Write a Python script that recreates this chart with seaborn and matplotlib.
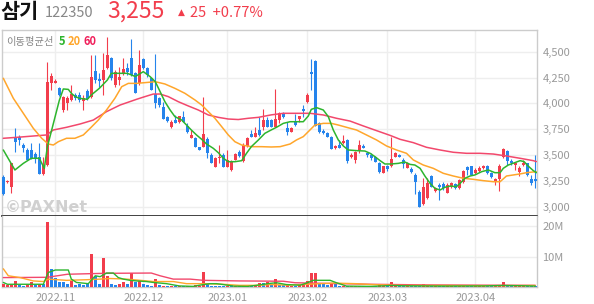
import numpy as np
import pandas as pd
import matplotlib
matplotlib.use("Agg")
import matplotlib.pyplot as plt
import seaborn as sns

# ---------------- data ----------------
stock_name = "삼기"
stock_code = "122350"
last_price = "3,255"
change_text = "25  +0.77%"

holidays = ["2022-10-10", "2022-12-30", "2023-01-23", "2023-01-24", "2023-03-01"]
first_day = "2022-10-13"
last_day = "2023-04-24"

open_ = [3294, 3245, 3197, 3680, 3680, 3600, 3551, 3551, 3512, 3487,
         3320, 3410, 4201, 4201, 4146, 3937, 4002, 4034, 4082, 4082,
         4027, 4120, 4066, 4317, 4240, 4227, 4339, 4442, 4178, 4227,
         4297, 4346, 4442, 4291, 4194, 4429, 4345, 4243, 4090, 4050,
         3969, 3873, 3776, 3840, 3824, 3866, 3783, 3664, 3664, 3577,
         3583, 3654, 3503, 3390, 3471, 3503, 3384, 3358, 3455, 3535,
         3448, 3590, 3705, 3680, 3744, 3770, 3840, 3840, 3770, 3840,
         3905, 3760, 3728, 3824, 3847, 3943, 4017, 4301, 4410, 3815,
         3738, 3718, 3680, 3567, 3599, 3615, 3648, 3480, 3455, 3551,
         3590, 3525, 3503, 3487, 3422, 3332, 3397, 3397, 3487, 3503,
         3455, 3374, 3364, 3310, 3149, 3030, 3085, 3300, 3159, 3213,
         3223, 3139, 3197, 3223, 3181, 3245, 3390, 3397, 3326, 3352,
         3374, 3397, 3332, 3245, 3268, 3480, 3545, 3448, 3406, 3342,
         3406, 3423, 3268, 3270]
high = [3310, 3262, 3428, 3760, 3696, 3616, 3567, 3616, 3535, 3616,
        3487, 4404, 4290, 4233, 4162, 4072, 4072, 4178, 4098, 4114,
        4082, 4136, 4468, 4468, 4291, 4484, 4638, 4452, 4323, 4355,
        4436, 4388, 4622, 4307, 4520, 4440, 4355, 4259, 4477, 4060,
        4017, 3880, 3840, 3885, 3879, 3930, 3808, 3744, 3673, 3583,
        4066, 3673, 3519, 3480, 3599, 3519, 3551, 3455, 3519, 3551,
        3615, 3680, 3744, 3776, 3873, 3943, 3873, 3850, 4136, 3921,
        3921, 3824, 3776, 3898, 3879, 3985, 4098, 4426, 4420, 3824,
        3750, 3725, 3690, 3596, 3648, 3696, 3654, 3519, 3545, 3648,
        3609, 3535, 3519, 3490, 3439, 3397, 3406, 3680, 3535, 3510,
        3471, 3435, 3384, 3326, 3165, 3278, 3278, 3310, 3197, 3236,
        3245, 3236, 3245, 3229, 3268, 3358, 3397, 3400, 3374, 3397,
        3406, 3403, 3342, 3278, 3416, 3570, 3551, 3461, 3429, 3397,
        3455, 3429, 3310, 3500]
low = [3117, 3235, 3139, 3535, 3600, 3535, 3454, 3461, 3423, 3320,
       3310, 3400, 4130, 4194, 4072, 3921, 3937, 4027, 4034, 4017,
       3937, 4034, 4050, 4194, 4162, 4082, 4330, 4227, 4162, 4178,
       4275, 4275, 4265, 4098, 4178, 4330, 4259, 4130, 3953, 3969,
       3850, 3824, 3760, 3815, 3815, 3824, 3712, 3664, 3577, 3551,
       3583, 3471, 3422, 3384, 3422, 3384, 3384, 3352, 3455, 3487,
       3439, 3583, 3673, 3680, 3686, 3744, 3770, 3770, 3770, 3815,
       3857, 3696, 3728, 3783, 3824, 3873, 4001, 4130, 3783, 3718,
       3705, 3680, 3557, 3560, 3567, 3609, 3422, 3471, 3422, 3519,
       3567, 3487, 3455, 3439, 3332, 3332, 3352, 3390, 3480, 3480,
       3374, 3374, 3332, 3127, 2998, 3020, 3075, 3197, 3149, 3069,
       3165, 3133, 3181, 3172, 3172, 3236, 3310, 3310, 3320, 3342,
       3364, 3320, 3278, 3213, 3158, 3471, 3406, 3406, 3358, 3300,
       3397, 3300, 3213, 3180]
close = [3126, 3255, 3422, 3631, 3648, 3568, 3454, 3461, 3461, 3320,
         3407, 4210, 4265, 4220, 4082, 4066, 4050, 4092, 4050, 4034,
         4050, 4040, 4259, 4227, 4217, 4323, 4468, 4243, 4307, 4259,
         4330, 4307, 4275, 4098, 4371, 4345, 4275, 4130, 4000, 3990,
         3850, 3831, 3824, 3815, 3879, 3824, 3728, 3696, 3577, 3551,
         3702, 3519, 3422, 3471, 3487, 3390, 3455, 3438, 3512, 3493,
         3599, 3664, 3680, 3712, 3696, 3840, 3776, 3770, 3847, 3905,
         3866, 3728, 3767, 3792, 3879, 3930, 4082, 4281, 3783, 3728,
         3712, 3680, 3557, 3590, 3567, 3641, 3448, 3503, 3535, 3600,
         3567, 3503, 3471, 3439, 3342, 3397, 3364, 3461, 3519, 3480,
         3416, 3429, 3342, 3245, 3004, 3197, 3229, 3197, 3188, 3197,
         3181, 3213, 3229, 3181, 3262, 3352, 3358, 3310, 3358, 3374,
         3397, 3326, 3294, 3268, 3397, 3557, 3448, 3423, 3423, 3381,
         3429, 3310, 3230, 3255]

volume_m = [0.9, 0.7, 0.7, 2.0, 0.7, 0.35, 0.9, 1.5, 0.7, 1.1,
            1.1, 21.3, 6.0, 3.1, 1.7, 1.5, 1.1, 2.0, 0.7, 0.9,
            0.7, 0.9, 10.8, 3.7, 1.1, 9.7, 3.7, 1.1, 0.7, 1.1,
            1.5, 1.1, 4.7, 1.5, 2.0, 1.1, 0.7, 0.35, 2.6, 0.7,
            0.35, 0.3, 0.3, 0.3, 0.25, 0.25, 0.25, 0.25, 0.5, 0.2,
            5.0, 1.1, 0.3, 0.3, 0.3, 0.3, 0.4, 0.8, 0.3, 0.2,
            0.3, 0.3, 0.2, 0.3, 1.3, 1.3, 1.7, 0.8, 2.6, 0.8,
            0.8, 0.55, 0.3, 0.3, 0.55, 1.1, 1.9, 4.6, 4.6, 1.1,
            0.9, 0.55, 1.1, 0.9, 0.3, 0.3, 0.3, 0.3, 0.2, 0.3,
            0.2, 0.25, 0.2, 0.25, 0.5, 0.3, 0.2, 1.5, 0.3, 0.2,
            0.25, 0.2, 0.2, 0.3, 0.3, 1.1, 0.4, 0.25, 0.2, 0.25,
            0.2, 0.2, 0.2, 0.2, 0.2, 0.3, 0.2, 0.2, 0.2, 0.2,
            0.2, 0.2, 0.2, 0.2, 0.4, 1.5, 0.4, 0.3, 0.2, 0.2,
            0.2, 0.3, 0.3, 0.3]
# u = up day (red volume bar), d = down day (blue volume bar)
volume_dir = list("".join([
    "uuuudduudu", "dudddddudd", "ddudduuddu", "udududddud",
    "udududuuuu", "udddddudud", "uuduududud", "duuduuuuud",
    "ddudduduuu", "dddduuduud", "duddduudud", "duuduudduu",
    "udduuudduu", "uddd",
]))

ma5_day = [0, 2.9, 5, 7, 9, 10.25, 11, 12, 13, 14, 15, 16.25, 17, 18, 19, 20, 21, 22,
           24, 26, 27, 29, 31, 33, 35, 36.7, 38, 39, 40.4, 41.7, 42.9, 44.6, 45.8,
           47, 48.3, 49.6, 50.8, 52.5, 53.75, 55, 56.25, 57.9, 59.6, 60.8, 62,
           63.75, 65.4, 67, 68.3, 70, 71.7, 73.3, 75, 76.25, 77, 78.3, 80, 81.25,
           82.5, 83.75, 85, 86.25, 88.3, 90.4, 91.7, 92.9, 94.2, 95.4, 97, 98.75,
           100.4, 101.7, 102.9, 104.2, 105.4, 106.7, 107.9, 109.2, 110.4, 111.7,
           113.3, 114.2, 115.4, 116.7, 117.9, 119.6, 121.25, 122.9, 124.2, 125,
           126.25, 127.9, 129.2, 130.2, 131.2, 132.5, 133.3]
ma5_val = [3551, 3358, 3422, 3471, 3471, 3374, 3580, 3730, 3880, 4030, 4140, 4136,
           4098, 4066, 4050, 4045, 4040, 4082, 4146, 4226, 4291, 4291, 4291, 4260,
           4307, 4259, 4210, 4130, 4017, 3937, 3873, 3840, 3792, 3744, 3696, 3654,
           3609, 3567, 3525, 3471, 3438, 3438, 3448, 3519, 3583, 3647, 3712, 3745,
           3770, 3808, 3824, 3824, 3824, 3879, 3943, 3960, 3937, 3873, 3744, 3648,
           3590, 3551, 3545, 3541, 3519, 3487, 3448, 3416, 3416, 3422, 3435, 3412,
           3406, 3374, 3300, 3229, 3181, 3165, 3191, 3203, 3197, 3229, 3278, 3300,
           3310, 3342, 3358, 3332, 3332, 3374, 3406, 3429, 3448, 3439, 3397, 3352,
           3332]
ma20_day = [0, 2.5, 5, 7.5, 9.6, 11.25, 12.5, 13.75, 15.8, 17.9, 20, 21.7, 23.75,
            25.8, 27.9, 29.6, 31.25, 33.3, 35.4, 38, 40.4, 42.9, 45.4, 47.9, 49.6,
            51.25, 52.9, 54.6, 56.25, 57.9, 59.6, 62, 64.6, 67, 69.2, 71.7, 73.3,
            75, 76.25, 77.9, 80, 82, 83.75, 85.8, 88.3, 90.8, 93.3, 95.8, 98.3,
            100.8, 102.5, 105, 107.5, 110, 112.5, 115, 117.5, 120, 122.5, 124.2,
            125.8, 127.5, 129.2, 130.8, 132.5, 133.3]
ma20_val = [4243, 4050, 3905, 3760, 3664, 3609, 3599, 3631, 3664, 3664, 3696, 3760,
            3840, 3937, 4050, 4162, 4194, 4194, 4201, 4210, 4188, 4146, 4098, 4034,
            3985, 3921, 3857, 3776, 3696, 3631, 3599, 3583, 3583, 3580, 3583, 3609,
            3648, 3680, 3728, 3792, 3808, 3808, 3792, 3770, 3744, 3696, 3648, 3590,
            3551, 3519, 3455, 3406, 3374, 3326, 3300, 3278, 3268, 3255, 3245, 3245,
            3300, 3310, 3320, 3332, 3339, 3339]
ma60_day = [0, 3.3, 7.5, 10.8, 12.5, 15.8, 19.2, 22.5, 25.8, 29.2, 33.3, 35.4, 37.5,
            39.2, 41.25, 43.75, 46.25, 48.75, 51.25, 53.75, 56.25, 58.75, 61.25,
            63.75, 67, 70, 73.3, 76.7, 80, 83.3, 86.7, 90, 93.3, 96.7, 99.2, 102.5,
            105.8, 109.2, 112.5, 115.8, 119.2, 122.5, 125.8, 129.2, 132.5, 133.3]
ma60_val = [3664, 3673, 3686, 3696, 3744, 3770, 3802, 3840, 3921, 3985, 4040, 4066,
            4091, 4091, 4066, 4017, 3976, 3937, 3889, 3866, 3850, 3845, 3857, 3866,
            3890, 3905, 3905, 3905, 3889, 3857, 3830, 3783, 3738, 3692, 3654, 3622,
            3577, 3551, 3529, 3519, 3519, 3512, 3493, 3471, 3448, 3439]

# moving averages of volume (millions)
vma5_day = [0, 1, 3, 10, 11.25, 13, 16.25, 17, 18.3, 21.25, 23, 24.2, 25.8, 27.5,
            28.75, 30, 31.7, 33.3, 35.8, 37.5, 40.8, 44, 47.5, 50, 51.7, 53.3, 55,
            57.5, 61, 63.3, 66.7, 68.3, 70.8, 74.2, 75.4, 77.5, 81.7, 83.3, 85.8,
            92, 97, 100, 110, 120, 125, 130, 133]
vma5_val = [1.5, 0.9, 0.9, 0.9, 4.8, 5.6, 5.6, 2.6, 1.5, 1.1, 3.7, 3.4, 4.6, 4.6,
            3.1, 2.6, 2.2, 2.0, 1.8, 1.5, 1.1, 0.35, 0.2, 0.8, 1.1, 1.1, 0.8, 0.3,
            0.2, 0.55, 1.2, 1.4, 0.8, 0.6, 1.1, 2.2, 2.2, 1.4, 0.3, 0.2, 0.5, 0.4,
            0.3, 0.35, 0.5, 0.4, 0.3]
vma20_day = [0, 1.25, 4.2, 7.5, 10, 11.25, 15.8, 20.8, 24.2, 26.7, 30.8, 34.2, 37.5,
             42.5, 45.8, 50, 55, 59, 63, 67, 71, 75, 77.5, 82.5, 88, 92, 100, 110,
             120, 133]
vma20_val = [6.0, 3.7, 3.1, 2.0, 1.8, 2.6, 2.2, 2.4, 2.6, 2.8, 2.6, 2.2, 1.8, 1.8,
             1.1, 1.1, 0.9, 0.55, 0.55, 0.8, 0.6, 0.8, 1.0, 1.3, 1.1, 0.8, 0.5,
             0.5, 0.45, 0.5]
vma60_day = [0, 11, 16, 25, 37, 39.2, 42.5, 46.7, 50, 59, 70, 73, 84, 92, 105, 120,
             133]
vma60_val = [3.1, 3.2, 4.2, 4.5, 4.6, 3.7, 2.6, 2.6, 2.2, 2.0, 1.9, 1.4, 1.1, 0.9,
             0.7, 0.6, 0.55]

price_ticks = [3000, 3250, 3500, 3750, 4000, 4250, 4500]
volume_ticks_m = [10, 20]

# ---------------- styling ----------------
RED = "#F23D4C"
BLUE = "#2584EC"
C5 = "#2DB52D"
C20 = "#FFA62B"
C60 = "#F2486C"
GRID = "#EEEEEE"
TICK = "#999999"

sns.set_theme(style="white")
plt.rcParams["font.family"] = ["Noto Sans CJK KR", "DejaVu Sans"]

W, H = 594, 304
fig = plt.figure(figsize=(W / 100, H / 100), dpi=100)
fig.patch.set_facecolor("white")

def fx(px):
    return px / W

def fy(py):
    return 1 - py / H

ax_p = fig.add_axes([fx(2), fy(216), fx(535), (216 - 30) / H])
ax_v = fig.add_axes([fx(2), fy(287), fx(535), (287 - 216) / H], sharex=ax_p)

# trading calendar
days = pd.bdate_range(first_day, last_day)
days = days[~days.isin(pd.to_datetime(holidays))]
n = len(days)
xi = np.arange(n)
month_pos = [i for i in range(1, n) if days[i].month != days[i - 1].month]
month_lab = [f"{days[i].year}.{days[i].month:02d}" for i in month_pos]

o = np.array(open_, float)
h = np.array(high, float)
l = np.array(low, float)
c = np.array(close, float)
cand_col = np.where(c >= o, RED, BLUE)

# grids
for ax in (ax_p, ax_v):
    for m in month_pos:
        ax.axvline(m, color=GRID, lw=1, zorder=0)
for t in price_ticks:
    ax_p.axhline(t, color=GRID, lw=1, zorder=0)
for t in volume_ticks_m:
    ax_v.axhline(t * 1e6, color=GRID, lw=1, zorder=0)

# watermark
ax_p.text(3 / 535, (216 - 207) / 186, "©PAXNet",
          transform=ax_p.transAxes, fontsize=11.5, fontweight="bold",
          color="#D0D0D0", va="center", ha="left", family=["DejaVu Sans"], zorder=1)

# candles
ax_p.vlines(xi, l, h, colors=cand_col, lw=0.8, zorder=3)
body = np.maximum(np.abs(c - o), 7)
ax_p.bar(xi, body, bottom=np.minimum(o, c), width=0.72, color=cand_col,
         linewidth=0, zorder=3)

# moving averages
sns.lineplot(x=ma60_day, y=ma60_val, ax=ax_p, color=C60, lw=1.1, zorder=4,
             legend=False, errorbar=None)
sns.lineplot(x=ma20_day, y=ma20_val, ax=ax_p, color=C20, lw=1.1, zorder=4,
             legend=False, errorbar=None)
sns.lineplot(x=ma5_day, y=ma5_val, ax=ax_p, color=C5, lw=1.1, zorder=5,
             legend=False, errorbar=None)

# volume
vol = np.array(volume_m) * 1e6
vol_col = [RED if d == "u" else BLUE for d in volume_dir]
ax_v.bar(xi, vol, width=0.72, color=vol_col, linewidth=0, zorder=3)
sns.lineplot(x=vma60_day, y=np.array(vma60_val) * 1e6, ax=ax_v, color=C60, lw=1.0,
             zorder=4, legend=False, errorbar=None)
sns.lineplot(x=vma20_day, y=np.array(vma20_val) * 1e6, ax=ax_v, color=C20, lw=1.0,
             zorder=4, legend=False, errorbar=None)
sns.lineplot(x=vma5_day, y=np.array(vma5_val) * 1e6, ax=ax_v, color=C5, lw=1.0,
             zorder=5, legend=False, errorbar=None)

# limits
ax_p.set_xlim(-0.33, 133.43)
ax_p.set_ylim(2914, 4709)
ax_v.set_ylim(0, 23.4e6)

# ticks
ax_p.yaxis.tick_right()
ax_p.set_yticks(price_ticks)
ax_p.set_yticklabels([f"{t:,}" for t in price_ticks])
ax_p.tick_params(axis="y", length=0, pad=4, labelsize=8, labelcolor=TICK)
ax_p.tick_params(axis="x", bottom=False, labelbottom=False, length=0)

ax_v.yaxis.tick_right()
ax_v.set_yticks([t * 1e6 for t in volume_ticks_m])
ax_v.set_yticklabels([f"{t}M" for t in volume_ticks_m])
ax_v.tick_params(axis="y", length=0, pad=4, labelsize=8, labelcolor=TICK)
ax_v.set_xticks(month_pos)
ax_v.set_xticklabels(month_lab)
ax_v.tick_params(axis="x", length=0, pad=4, labelsize=8, labelcolor=TICK)
for ax in (ax_p, ax_v):
    ax.set_xlabel("")
    ax.set_ylabel("")
    ax.set_facecolor("white")

# spines
for s in ("top", "right", "left"):
    ax_p.spines[s].set_color("#CCCCCC")
    ax_p.spines[s].set_linewidth(1)
ax_p.spines["bottom"].set_color("#333333")
ax_p.spines["bottom"].set_linewidth(1.3)
ax_v.spines["top"].set_visible(False)
for s in ("right", "bottom", "left"):
    ax_v.spines[s].set_color("#C8C8C8")
    ax_v.spines[s].set_linewidth(1)

# header
fig.text(fx(0), fy(18), stock_name, fontsize=15, fontweight="bold",
         color="#111111", va="baseline", ha="left")
fig.text(fx(45), fy(17.3), stock_code, fontsize=10.5, color="#888888",
         va="baseline", ha="left")
fig.text(fx(107), fy(17.8), last_price, fontsize=16.5, color=RED,
         va="baseline", ha="left")
fig.text(fx(178), fy(14.5), "▲", fontsize=6.5, color=RED, va="baseline",
         ha="left", family=["DejaVu Sans"])
fig.text(fx(190), fy(17.3), change_text, fontsize=10.5, color=RED,
         va="baseline", ha="left")

# MA legend
fig.text(fx(6), fy(45.5), "이동평균선", fontsize=7.4, color="#888888",
         va="baseline", ha="left")
fig.text(fx(59), fy(45), "5", fontsize=8, fontweight="bold", color=C5,
         va="baseline", ha="left")
fig.text(fx(68), fy(45), "20", fontsize=8, fontweight="bold", color=C20,
         va="baseline", ha="left")
fig.text(fx(83), fy(45), "60", fontsize=8, fontweight="bold", color="#F01E5A",
         va="baseline", ha="left")

fig.savefig("out.png", dpi=100, facecolor="white")
